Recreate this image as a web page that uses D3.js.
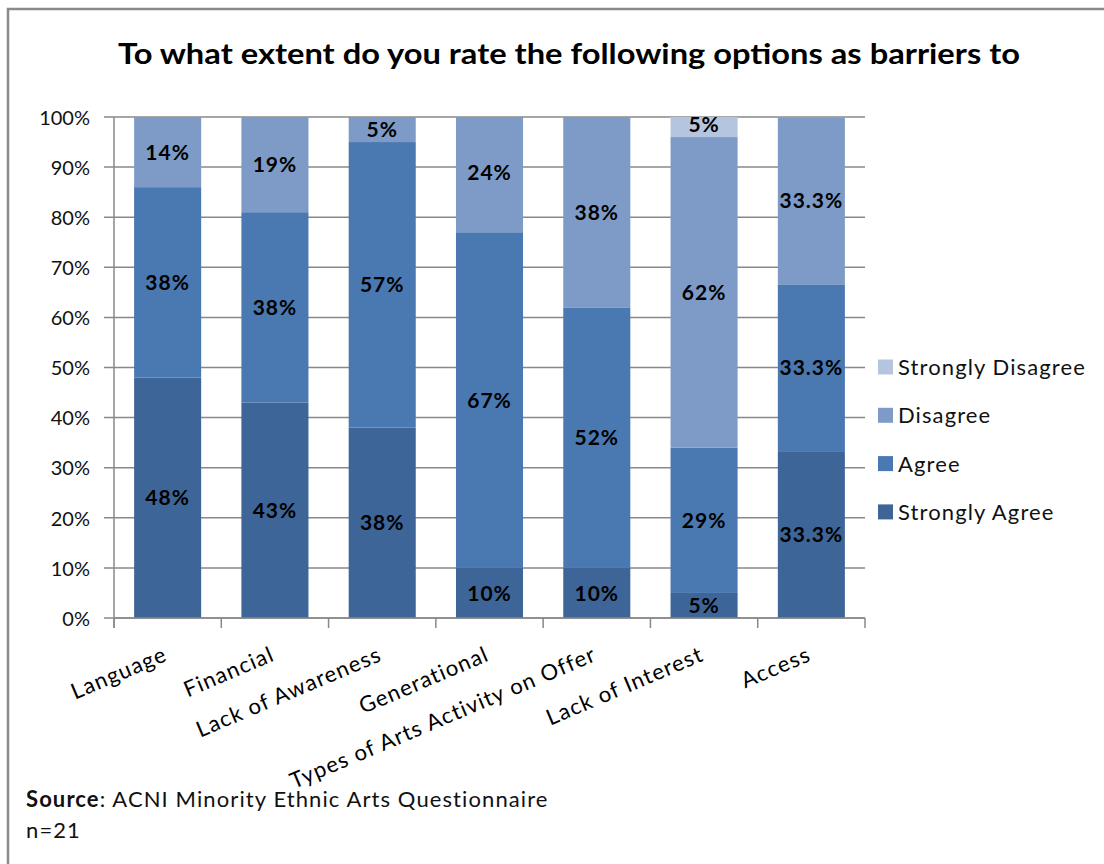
<!DOCTYPE html>
<html>
<head>
<meta charset="utf-8">
<script src="https://cdn.jsdelivr.net/npm/d3@7"></script>
<style>
  body { margin: 0; background: #fff; }
  svg { display: block; font-family: Lato, "Open Sans", sans-serif; }
</style>
</head>
<body>
<div id="container"></div>
<script>
// data (percent of respondents, n=21)
let categories = ["Language", "Financial", "Lack of Awareness", "Generational",
  "Types of Arts Activity on Offer", "Lack of Interest", "Access"];
let stronglyAgree    = [48, 43, 38, 10, 10, 5, 33.3];
let agree            = [38, 38, 57, 67, 52, 29, 33.3];
let disagree         = [14, 19, 5, 24, 38, 62, 33.3];
let stronglyDisagree = [0, 0, 0, 0, 0, 5, 0];
let seriesNames = ["Strongly Agree", "Agree", "Disagree", "Strongly Disagree"];
let yTicks = [0, 10, 20, 30, 40, 50, 60, 70, 80, 90, 100];

let colors = {
  "Strongly Agree": "#3d6597",
  "Agree": "#4a78b0",
  "Disagree": "#7e9bc7",
  "Strongly Disagree": "#b5c5df"
};

let w = 1104;
let h = 864;
let plotLeft = 114, plotRight = 865, plotTop = 117, plotBottom = 618;

let viz = d3.select("#container")
  .append("svg")
    .attr("width", w)
    .attr("height", h)
;

// outer frame of the chart
viz.append("rect")
  .attr("x", 8).attr("y", 9)
  .attr("width", w + 20).attr("height", h + 20)
  .attr("fill", "none")
  .attr("stroke", "#8a8a8a")
  .attr("stroke-width", 2.5)
;

// title
viz.append("text")
  .attr("x", 569).attr("y", 64)
  .attr("text-anchor", "middle")
  .attr("font-size", 28)
  .attr("font-weight", "bold")
  .attr("textLength", 902)
  .attr("lengthAdjust", "spacingAndGlyphs")
  .text("To what extent do you rate the following options as barriers to")
;

// table for d3.stack
let table = categories.map(function(c, i){
  return {
    name: c,
    "Strongly Agree": stronglyAgree[i],
    "Agree": agree[i],
    "Disagree": disagree[i],
    "Strongly Disagree": stronglyDisagree[i]
  };
});

let stacked = d3.stack().keys(seriesNames)(table);

let xScale = d3.scaleBand()
  .domain(categories)
  .range([plotLeft, plotRight])
  .paddingInner(0.375)
  .paddingOuter(0.1875)
;
let step = xScale.step();

let yScale = d3.scaleLinear().domain([0, 100]).range([plotBottom, plotTop]).clamp(true);

// gridlines (they also make the left ticks)
viz.append("g").classed("grid", true)
  .selectAll("line").data(yTicks).enter()
  .append("line")
    .attr("x1", plotLeft - 10).attr("x2", plotRight)
    .attr("y1", d => yScale(d)).attr("y2", d => yScale(d))
    .attr("stroke", "#888")
    .attr("stroke-width", 1.5)
;

// y axis labels
let yAxis = d3.axisLeft(yScale).tickValues(yTicks).tickFormat(d => d + "%").tickSize(0).tickPadding(24);
let yAxisGroup = viz.append("g").classed("yAxis", true)
  .attr("transform", "translate(" + plotLeft + ",0)")
  .call(yAxis);
yAxisGroup.select(".domain").remove();
yAxisGroup.selectAll("text")
  .attr("font-size", 20)
  .attr("font-family", "Lato, sans-serif")
  .attr("fill", "#111")
  .attr("dy", "0.36em");

// bars
let graphGroup = viz.append("g").classed("graphGroup", true);
let layers = graphGroup.selectAll(".layer").data(stacked).enter()
  .append("g").classed("layer", true)
  .attr("fill", d => colors[d.key]);

layers.selectAll("rect").data(d => d).enter()
  .append("rect")
    .attr("x", d => xScale(d.data.name))
    .attr("width", xScale.bandwidth())
    .attr("y", d => yScale(d[1]))
    .attr("height", d => yScale(d[0]) - yScale(d[1]))
;

// value labels
function fmt(v){
  return Number.isInteger(v) ? v + "%" : v.toFixed(1) + "%";
}
let labelGroup = viz.append("g").classed("labels", true);
stacked.forEach(function(layer){
  layer.forEach(function(d){
    let v = d[1] - d[0];
    if (v <= 0) return;
    labelGroup.append("text")
      .attr("x", xScale(d.data.name) + xScale.bandwidth() / 2)
      .attr("y", yScale((d[0] + d[1]) / 2))
      .attr("dy", "0.36em")
      .attr("text-anchor", "middle")
      .attr("font-size", 21)
      .attr("font-weight", "bold")
      .attr("letter-spacing", 1)
      .attr("fill", "#000")
      .text(fmt(Math.round(v * 10) / 10));
  });
});

// axes lines
viz.append("line")
  .attr("x1", plotLeft).attr("x2", plotLeft)
  .attr("y1", plotTop).attr("y2", plotBottom + 10)
  .attr("stroke", "#888").attr("stroke-width", 1.5);
viz.append("line")
  .attr("x1", plotLeft).attr("x2", plotRight)
  .attr("y1", plotBottom).attr("y2", plotBottom)
  .attr("stroke", "#888").attr("stroke-width", 1.5);
viz.append("g").selectAll("line").data(d3.range(categories.length + 1)).enter()
  .append("line")
    .attr("x1", i => plotLeft + i * step).attr("x2", i => plotLeft + i * step)
    .attr("y1", plotBottom).attr("y2", plotBottom + 10)
    .attr("stroke", "#888").attr("stroke-width", 1.5);

// category labels, rotated
viz.append("g").classed("xLabels", true)
  .selectAll("text").data(categories).enter()
  .append("text")
    .attr("transform", d => "translate(" + (xScale(d) + xScale.bandwidth() / 2 + 1) + "," + (plotBottom + 42) + ") rotate(-23)")
    .attr("text-anchor", "end")
    .attr("font-size", 22)
    .attr("letter-spacing", 1.2)
    .attr("fill", "#000")
    .text(d => d)
;

// legend
let legendItems = seriesNames.slice().reverse();
let legend = viz.append("g").classed("legend", true)
  .selectAll("g").data(legendItems).enter()
  .append("g")
    .attr("transform", (d, i) => "translate(878," + (367 + i * 48.3) + ")");
legend.append("rect")
  .attr("x", 0).attr("y", -7.5)
  .attr("width", 15).attr("height", 15)
  .attr("fill", d => colors[d]);
legend.append("text")
  .attr("x", 20).attr("y", 0)
  .attr("dy", "0.36em")
  .attr("font-size", 22)
  .attr("letter-spacing", 1.1)
  .attr("fill", "#111")
  .text(d => d);

// source note
let note = viz.append("text")
  .attr("x", 26).attr("y", 807)
  .attr("font-size", 22)
  .attr("letter-spacing", 1.1)
  .attr("fill", "#111");
note.append("tspan").attr("font-weight", "bold").text("Source");
note.append("tspan").text(": ACNI Minority Ethnic Arts Questionnaire");
viz.append("text")
  .attr("x", 26).attr("y", 838)
  .attr("font-size", 22)
  .attr("letter-spacing", 1.1)
  .attr("fill", "#111")
  .text("n=21");
</script>
</body>
</html>
